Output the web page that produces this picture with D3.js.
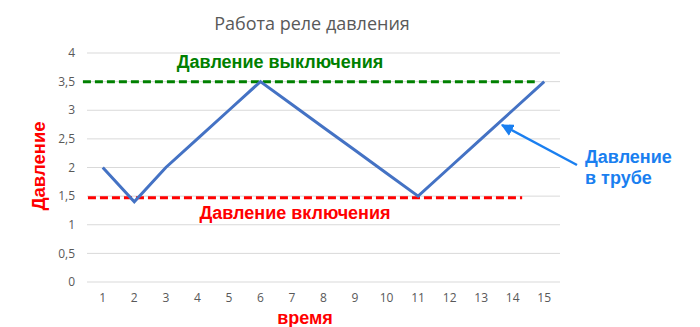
<!DOCTYPE html>
<html>
<head>
<meta charset="utf-8">
<script src="https://cdn.jsdelivr.net/npm/d3@7"></script>
<style>
  body { margin: 0; background: #fff; }
  text { font-family: "Open Sans", "Liberation Sans", sans-serif; }
</style>
</head>
<body>
<div id="chart"></div>
<script>
// time steps and pipe pressure
const times = [1, 2, 3, 4, 5, 6, 7, 8, 9, 10, 11, 12, 13, 14, 15];
const pressure = [2, 1.4, 2, 2.5, 3, 3.5, 3.1, 2.7, 2.3, 1.9, 1.5, 2, 2.5, 3, 3.5];
const yTicks = [0, 0.5, 1, 1.5, 2, 2.5, 3, 3.5, 4];

// relay thresholds: [value, start time, end time]
const offLevel = [3.5, 0.37, 14.7];
const onLevel = [1.47, 0.53, 14.3];

const width = 700, height = 327;
const margin = { top: 53, right: 140, bottom: 45, left: 87 };

const svg = d3.select("#chart").append("svg")
  .attr("width", width)
  .attr("height", height);

const x = d3.scaleLinear()
  .domain([0.5, 15.5])
  .range([margin.left, width - margin.right]);

const y = d3.scaleLinear()
  .domain([0, 4])
  .range([height - margin.bottom, margin.top]);

const fmt = d => String(d).replace(".", ",");

// gridlines
svg.append("g")
  .selectAll("line")
  .data(yTicks)
  .enter()
  .append("line")
  .attr("x1", margin.left)
  .attr("x2", width - margin.right)
  .attr("y1", d => y(d))
  .attr("y2", d => y(d))
  .attr("stroke", "#d9d9d9")
  .attr("stroke-width", 1);

// y tick labels
svg.append("g")
  .selectAll("text")
  .data(yTicks)
  .enter()
  .append("text")
  .attr("x", 75)
  .attr("y", d => y(d))
  .attr("dy", "0.35em")
  .attr("text-anchor", "end")
  .style("font-size", "12px")
  .style("fill", "#595959")
  .text(fmt);

// x tick labels
svg.append("g")
  .selectAll("text")
  .data(times)
  .enter()
  .append("text")
  .attr("x", d => x(d))
  .attr("y", 302)
  .attr("text-anchor", "middle")
  .style("font-size", "12px")
  .style("fill", "#595959")
  .text(d => d);

// threshold lines
svg.append("line")
  .attr("x1", x(offLevel[1])).attr("x2", x(offLevel[2]))
  .attr("y1", y(offLevel[0])).attr("y2", y(offLevel[0]))
  .attr("stroke", "#008000")
  .attr("stroke-width", 3)
  .attr("stroke-dasharray", "8,4");

svg.append("line")
  .attr("x1", x(onLevel[1])).attr("x2", x(onLevel[2]))
  .attr("y1", y(onLevel[0])).attr("y2", y(onLevel[0]))
  .attr("stroke", "#ff0000")
  .attr("stroke-width", 3)
  .attr("stroke-dasharray", "8,4");

// pressure line
const line = d3.line()
  .x((d, i) => x(times[i]))
  .y(d => y(d));

svg.append("path")
  .datum(pressure)
  .attr("d", line)
  .attr("fill", "none")
  .attr("stroke", "#4472c4")
  .attr("stroke-width", 3)
  .attr("stroke-linejoin", "miter");

// title
svg.append("text")
  .attr("x", 312)
  .attr("y", 30)
  .attr("text-anchor", "middle")
  .style("font-size", "18px")
  .style("fill", "#595959")
  .text("Работа реле давления");

// threshold labels
svg.append("text")
  .attr("x", 280)
  .attr("y", 68)
  .attr("text-anchor", "middle")
  .style("font-size", "18px")
  .style("font-weight", "bold")
  .style("font-family", "Liberation Sans, Arial, sans-serif")
  .style("fill", "#008000")
  .text("Давление выключения");

svg.append("text")
  .attr("x", 295)
  .attr("y", 219)
  .attr("text-anchor", "middle")
  .style("font-size", "18px")
  .style("font-weight", "bold")
  .style("font-family", "Liberation Sans, Arial, sans-serif")
  .style("fill", "#ff0000")
  .text("Давление включения");

// axis titles
svg.append("text")
  .attr("transform", "translate(45,166) rotate(-90)")
  .attr("text-anchor", "middle")
  .style("font-size", "18.5px")
  .style("font-weight", "bold")
  .style("font-family", "Liberation Sans, Arial, sans-serif")
  .style("fill", "#ff0000")
  .text("Давление");

svg.append("text")
  .attr("x", 305)
  .attr("y", 324)
  .attr("text-anchor", "middle")
  .style("font-size", "18px")
  .style("font-weight", "bold")
  .style("font-family", "Liberation Sans, Arial, sans-serif")
  .style("fill", "#ff0000")
  .text("время");

// annotation with arrow
const blue = "#1a7ff0";
svg.append("defs").append("marker")
  .attr("id", "arrow")
  .attr("viewBox", "0 0 10 10")
  .attr("refX", 9).attr("refY", 5)
  .attr("markerWidth", 5).attr("markerHeight", 5)
  .attr("orient", "auto")
  .append("path")
  .attr("d", "M0,0 L10,5 L0,10 z")
  .attr("fill", blue);

svg.append("line")
  .attr("x1", 577).attr("y1", 165)
  .attr("x2", 502).attr("y2", 125)
  .attr("stroke", blue)
  .attr("stroke-width", 2.5)
  .attr("marker-end", "url(#arrow)");

const note = svg.append("text")
  .attr("x", 585)
  .style("font-size", "18px")
  .style("font-weight", "bold")
  .style("font-family", "Liberation Sans, Arial, sans-serif")
  .style("fill", blue);
note.append("tspan").attr("x", 585).attr("y", 163).text("Давление");
note.append("tspan").attr("x", 585).attr("y", 184).text("в трубе");
</script>
</body>
</html>
